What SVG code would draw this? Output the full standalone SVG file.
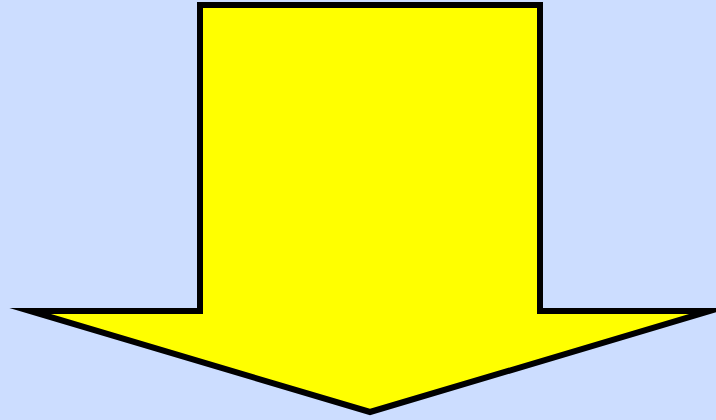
<svg xmlns="http://www.w3.org/2000/svg" width="716" height="420" viewBox="0 0 716 420">
  <style>
    .bg { fill: #CCDDFF; }
    .arrow { fill: #FFFF00; stroke: #000000; stroke-width: 6; stroke-linejoin: miter; stroke-miterlimit: 30; }
  </style>
  <rect class="bg" x="0" y="0" width="716" height="420"/>
  <g id="down-arrow">
    <polygon class="arrow" points="200,5 540,5 540,311 710,311 370,412 30,311 200,311"/>
  </g>
  <g id="connectors"></g>
</svg>
